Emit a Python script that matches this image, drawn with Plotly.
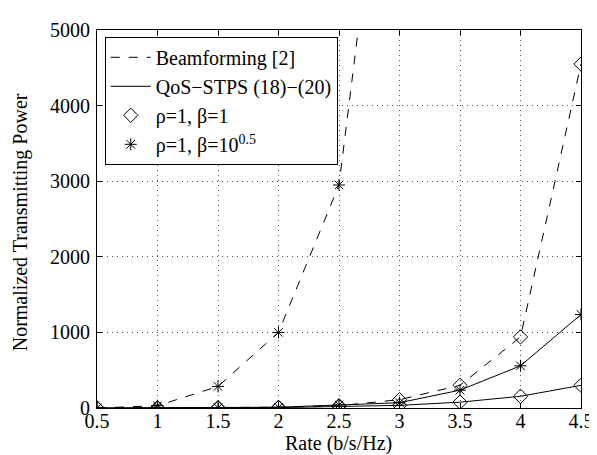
import plotly.graph_objects as go

rate = [0.5, 1, 1.5, 2, 2.5, 3, 3.5, 4, 4.5]
bf_beta1 = [0, 1, 3, 10, 30, 110, 300, 940, 4550]
rate_bf05 = [0.5, 1, 1.5, 2, 2.5, 3]
bf_beta05 = [0, 30, 285, 1000, 2950, 9400]
qos_beta05 = [0, 1, 3, 10, 40, 70, 236, 558, 1237]
qos_beta1 = [0, 1, 2, 5, 20, 35, 77, 155, 300]

x_ticks = [0.5, 1, 1.5, 2, 2.5, 3, 3.5, 4, 4.5]
x_ticktext = ["0.5", "1", "1.5", "2", "2.5", "3", "3.5", "4", "4.5"]
y_ticks = [0, 1000, 2000, 3000, 4000, 5000]

FONT = "Liberation Serif"
BLACK = "black"
FS = 20

fig = go.Figure()

fig.add_trace(go.Scatter(x=rate, y=bf_beta1, mode="lines+markers",
                         line=dict(color=BLACK, width=1, dash="dash"),
                         marker=dict(symbol="diamond-open", size=11, color=BLACK, line=dict(width=1)),
                         showlegend=False))
fig.add_trace(go.Scatter(x=rate_bf05, y=bf_beta05, mode="lines+markers",
                         line=dict(color=BLACK, width=1, dash="dash"),
                         marker=dict(symbol="asterisk-open", size=10, color=BLACK, line=dict(width=1, color=BLACK)),
                         showlegend=False))
fig.add_trace(go.Scatter(x=rate, y=qos_beta05, mode="lines+markers",
                         line=dict(color=BLACK, width=1),
                         marker=dict(symbol="asterisk-open", size=10, color=BLACK, line=dict(width=1, color=BLACK)),
                         showlegend=False))
fig.add_trace(go.Scatter(x=rate, y=qos_beta1, mode="lines+markers",
                         line=dict(color=BLACK, width=1),
                         marker=dict(symbol="diamond-open", size=11, color=BLACK, line=dict(width=1)),
                         showlegend=False))

fig.add_trace(go.Scatter(x=[None], y=[None], mode="lines", name="Beamforming [2]",
                         line=dict(color=BLACK, width=1, dash="dash")))
fig.add_trace(go.Scatter(x=[None], y=[None], mode="lines", name="QoS\u2212STPS (18)\u2212(20)",
                         line=dict(color=BLACK, width=1)))
fig.add_trace(go.Scatter(x=[None], y=[None], mode="markers", name="\u03c1=1, \u03b2=1",
                         marker=dict(symbol="diamond-open", size=11, color=BLACK, line=dict(width=1))))
fig.add_trace(go.Scatter(x=[None], y=[None], mode="markers", name="\u03c1=1, \u03b2=10<sup>0.5</sup>",
                         marker=dict(symbol="asterisk-open", size=10, color=BLACK, line=dict(width=1, color=BLACK))))

axis_common = dict(
    showline=True, linecolor=BLACK, linewidth=1, mirror="ticks",
    ticks="inside", ticklen=5, tickcolor=BLACK,
    showgrid=True, gridcolor="#555555", griddash="1px,4px", gridwidth=1,
    zeroline=False,
    tickfont=dict(family=FONT, size=FS, color=BLACK),
)

fig.update_layout(
    width=597, height=455,
    margin=dict(l=89, r=14, t=11, b=55),
    paper_bgcolor="white", plot_bgcolor="white",
    font=dict(family=FONT, size=FS, color=BLACK),
    xaxis=dict(range=[0.5, 4.5], tickvals=x_ticks, ticktext=x_ticktext,
               ticklabelstandoff=-5, **axis_common),
    yaxis=dict(range=[0, 5000], tickvals=y_ticks, ticklabelstandoff=2, **axis_common),
    legend=dict(x=0.016, y=0.982, xanchor="left", yanchor="top",
                bgcolor="white", bordercolor=BLACK, borderwidth=1,
                font=dict(family=FONT, size=FS, color=BLACK),
                itemwidth=40, tracegroupgap=0),
    showlegend=True,
    annotations=[
        dict(text="Rate (b/s/Hz)", xref="paper", yref="paper", x=0.498, y=-0.093,
             xanchor="center", yanchor="middle", showarrow=False,
             font=dict(family=FONT, size=FS, color=BLACK)),
        dict(text="Normalized Transmitting Power", xref="paper", yref="paper", x=-0.158, y=0.49,
             xanchor="center", yanchor="middle", showarrow=False, textangle=-90,
             font=dict(family=FONT, size=FS, color=BLACK)),
    ],
)

fig.write_html("out.html")
